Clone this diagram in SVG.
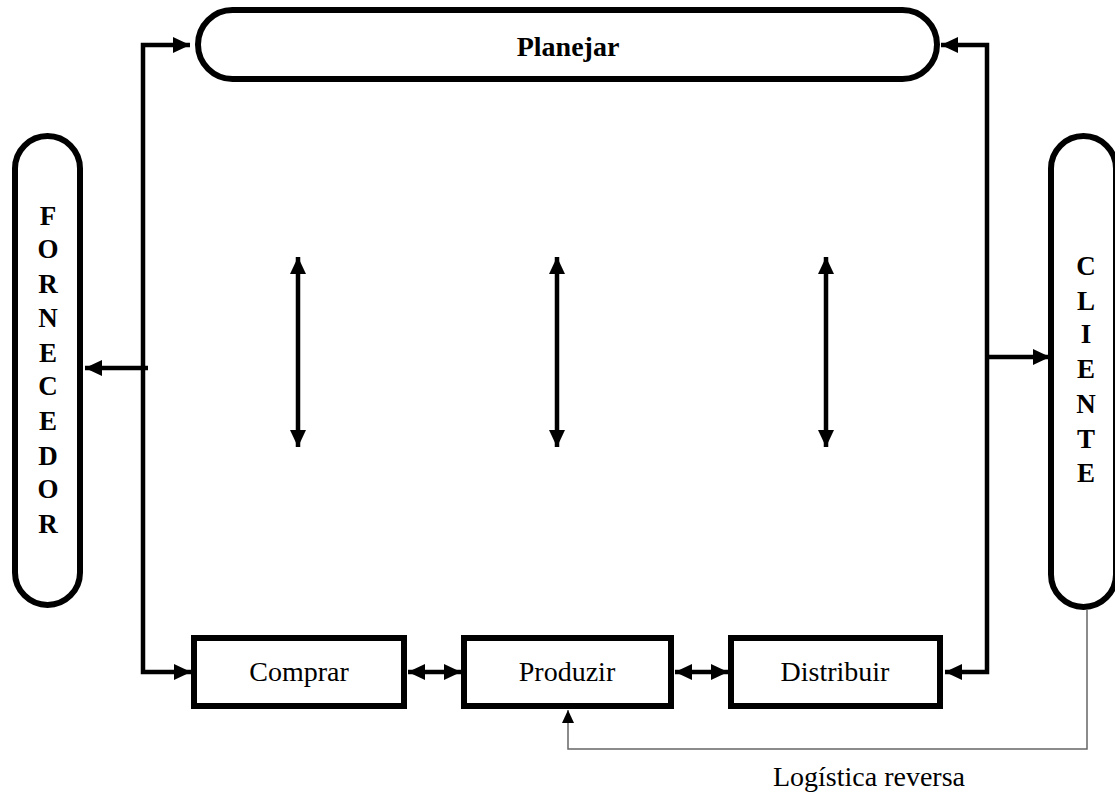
<svg xmlns="http://www.w3.org/2000/svg" width="1115" height="793" viewBox="0 0 1115 793">
  <style>
    .box { fill: #fff; stroke: #000; stroke-width: 6; }
    .conn { fill: none; stroke: #000; stroke-width: 4.5; }
    .thin { fill: none; stroke: #666; stroke-width: 1.5; }
    .lbl { font-family: "Liberation Serif", "Times New Roman", serif; font-size: 28px; fill: #000; text-anchor: middle; }
    .bold { font-weight: bold; }
    .vert { font-family: "Liberation Serif", "Times New Roman", serif; font-size: 27px; font-weight: bold; fill: #000; text-anchor: middle; }
  </style>
  <defs>
    <marker id="head" markerUnits="userSpaceOnUse" markerWidth="17" markerHeight="16" refX="17" refY="8" orient="auto-start-reverse">
      <path d="M0,0 L17,8 L0,16 z" fill="#000"/>
    </marker>
    <marker id="headSmall" markerUnits="userSpaceOnUse" markerWidth="13" markerHeight="12" refX="13" refY="6" orient="auto">
      <path d="M0,0 L13,6 L0,12 z" fill="#000"/>
    </marker>
  </defs>

  <!-- connectors -->
  <g id="connectors">
    <!-- left trunk: Planejar, Fornecedor, Comprar -->
    <polyline class="conn" points="190,45 143,45 143,672 191,672" marker-start="url(#head)" marker-end="url(#head)"/>
    <line class="conn" x1="148" y1="368" x2="85" y2="368" marker-end="url(#head)"/>
    <!-- right trunk: Planejar, Cliente, Distribuir -->
    <polyline class="conn" points="941,45 987,45 987,672 945,672" marker-start="url(#head)" marker-end="url(#head)"/>
    <line class="conn" x1="985" y1="357" x2="1050" y2="357" marker-end="url(#head)"/>
    <!-- between process boxes -->
    <line class="conn" x1="408" y1="672" x2="461" y2="672" marker-start="url(#head)" marker-end="url(#head)"/>
    <line class="conn" x1="675" y1="672" x2="728" y2="672" marker-start="url(#head)" marker-end="url(#head)"/>
    <!-- vertical links to Planejar -->
    <line class="conn" x1="298" y1="257" x2="298" y2="447" marker-start="url(#head)" marker-end="url(#head)"/>
    <line class="conn" x1="557" y1="257" x2="557" y2="447" marker-start="url(#head)" marker-end="url(#head)"/>
    <line class="conn" x1="826" y1="257" x2="826" y2="447" marker-start="url(#head)" marker-end="url(#head)"/>
    <!-- reverse logistics -->
    <polyline class="thin" points="1087,610 1087,749 568,749 568,710" marker-end="url(#headSmall)"/>
  </g>

  <g id="planejar">
    <rect class="box" x="198" y="10" width="739" height="69" rx="34.5"/>
    <text class="lbl bold" x="568" y="56">Planejar</text>
  </g>

  <g id="fornecedor">
    <rect class="box" x="15" y="136" width="65" height="469" rx="32.5"/>
    <text class="vert" x="48" y="225">F</text>
    <text class="vert" x="48" y="258">O</text>
    <text class="vert" x="48" y="293">R</text>
    <text class="vert" x="48" y="327">N</text>
    <text class="vert" x="48" y="362">E</text>
    <text class="vert" x="48" y="395">C</text>
    <text class="vert" x="48" y="430">E</text>
    <text class="vert" x="48" y="465">D</text>
    <text class="vert" x="48" y="498">O</text>
    <text class="vert" x="48" y="533">R</text>
  </g>

  <g id="cliente">
    <rect class="box" x="1051" y="136" width="65" height="471" rx="32.5"/>
    <text class="vert" x="1086" y="275">C</text>
    <text class="vert" x="1086" y="310">L</text>
    <text class="vert" x="1086" y="343">I</text>
    <text class="vert" x="1086" y="378">E</text>
    <text class="vert" x="1086" y="413">N</text>
    <text class="vert" x="1086" y="448">T</text>
    <text class="vert" x="1086" y="482">E</text>
  </g>

  <g id="comprar">
    <rect class="box" x="194" y="638" width="210" height="68"/>
    <text class="lbl" x="299" y="681">Comprar</text>
  </g>

  <g id="produzir">
    <rect class="box" x="464" y="638" width="207" height="68"/>
    <text class="lbl" x="567" y="681">Produzir</text>
  </g>

  <g id="distribuir">
    <rect class="box" x="731" y="638" width="209" height="68"/>
    <text class="lbl" x="835" y="681">Distribuir</text>
  </g>

  <g id="logistica-reversa">
    <text class="lbl" x="869" y="786">Logística reversa</text>
  </g>
</svg>
